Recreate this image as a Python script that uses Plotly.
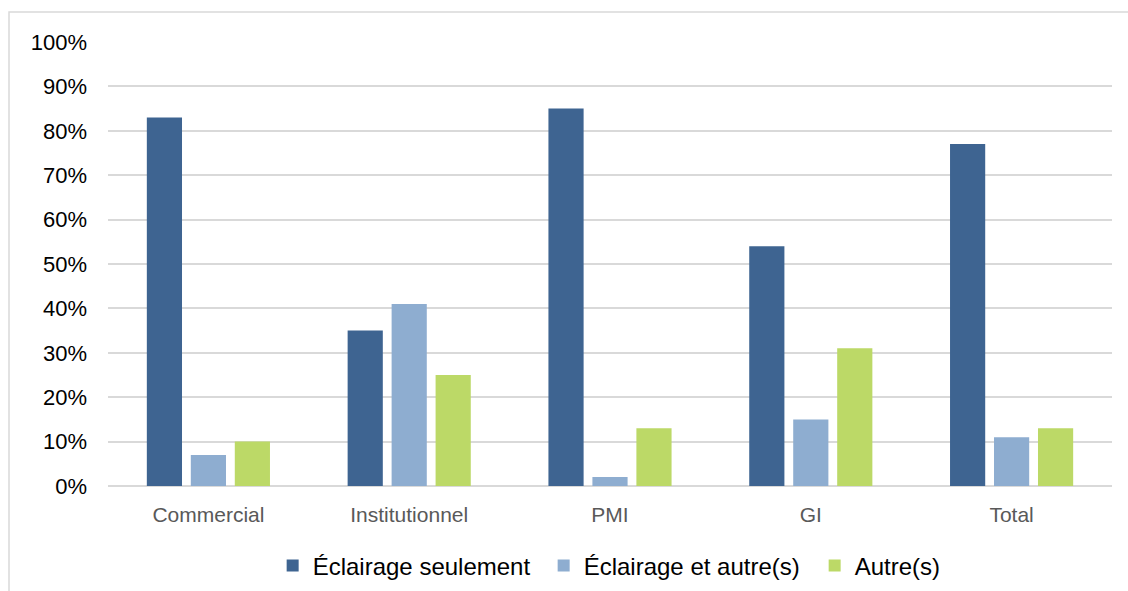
import plotly.graph_objects as go

categories = ["Commercial", "Institutionnel", "PMI", "GI", "Total"]
eclairage_seul = [83, 35, 85, 54, 77]
eclairage_autres = [7, 41, 2, 15, 11]
autres = [10, 25, 13, 31, 13]
y_ticks = list(range(0, 101, 10))
y_tick_text = [f"{v}%" for v in y_ticks]

series = [
    ("Éclairage seulement", eclairage_seul, "#3E6491"),
    ("Éclairage et autre(s)", eclairage_autres, "#8EADD0"),
    ("Autre(s)", autres, "#BCD967"),
]

fig = go.Figure()
for name, vals, color in series:
    fig.add_trace(go.Bar(x=categories, y=vals, name=name, marker_color=color,
                         marker_line_width=0))

fig.update_layout(
    width=1128, height=591,
    margin=dict(l=108, r=16, t=42, b=105),
    plot_bgcolor="white", paper_bgcolor="white",
    barmode="group", bargap=0.343, bargroupgap=0.2,
    font=dict(family="Liberation Sans, Arial, sans-serif"),
    showlegend=True,
    legend=dict(orientation="h", x=0.164, xanchor="left",
                yref="container", y=1 - 566 / 591, yanchor="middle",
                font=dict(size=24, color="#000000"), itemwidth=30,
                entrywidth=226, entrywidthmode="pixels",
                traceorder="normal"),
    xaxis=dict(showgrid=False, showline=False, ticks="", automargin=False,
               tickfont=dict(size=21, color="#595959"), ticklabelstandoff=14),
    yaxis=dict(range=[0, 100], tickmode="array", tickvals=y_ticks, ticktext=y_tick_text,
               showgrid=True, gridcolor="#D9D9D9", gridwidth=1.5,
               zeroline=True, zerolinecolor="#D9D9D9", zerolinewidth=1.5,
               showline=False, ticks="", automargin=False,
               tickfont=dict(size=22, color="#000000"), ticklabelstandoff=20),
    shapes=[dict(type="rect", xref="paper", yref="paper",
                 x0=-0.0986, x1=1.05, y0=-0.3, y1=1.0676,
                 line=dict(color="#D9D9D9", width=1.5), layer="below")],
)

fig.write_html("out.html")
